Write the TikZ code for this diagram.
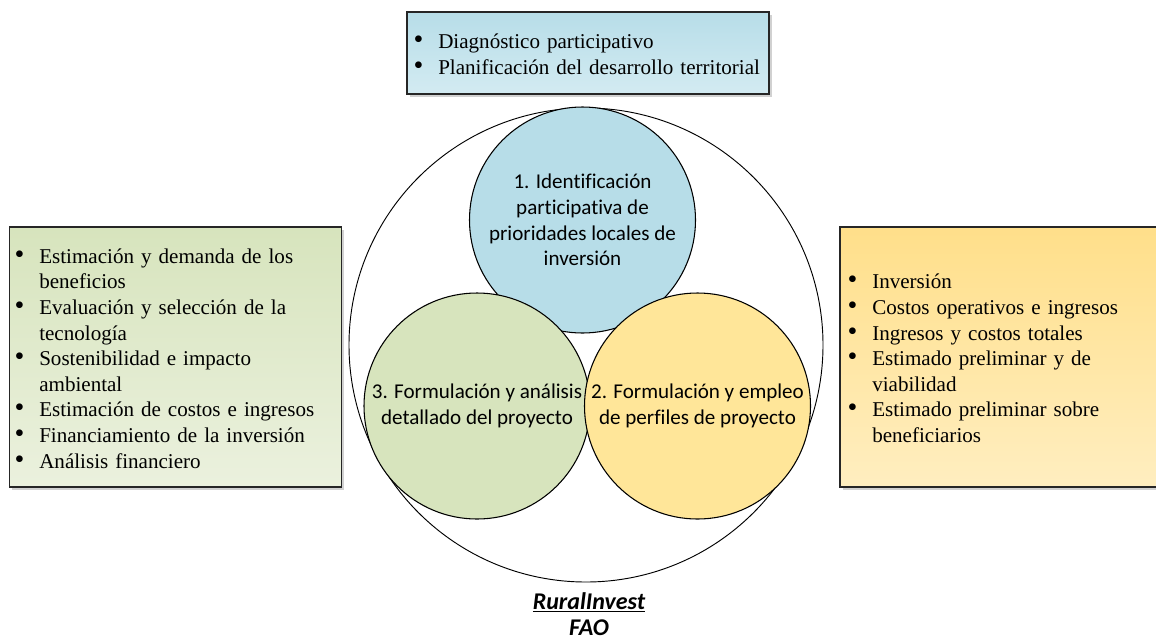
\documentclass[tikz,border=0pt]{standalone}
\usepackage{fontspec}
\setmainfont{Liberation Serif}
\newfontfamily\calibri[Ligatures=NoCommon]{Carlito}
\usetikzlibrary{shadows}
\definecolor{blueA}{HTML}{B7DDE8}
\definecolor{blueB}{HTML}{D3EBF2}
\definecolor{greenA}{HTML}{D7E4BD}
\definecolor{greenB}{HTML}{EBF1DE}
\definecolor{goldA}{HTML}{FFDF8A}
\definecolor{goldB}{HTML}{FFEEC0}
\definecolor{circBlue}{HTML}{B7DDE8}
\definecolor{circGreen}{HTML}{D7E4BD}
\definecolor{circGold}{HTML}{FFE699}
\newcommand{\bulletmark}{\raisebox{0.32ex}{\rule{0pt}{0pt}{\fontsize{22}{22}\selectfont\raisebox{-0.12ex}{\textbullet}}}}
\newcommand{\itm}[1]{\par\noindent\hangindent=18pt\hangafter=1\makebox[18pt][l]{\hspace{-0.5pt}\smash{\fontsize{21}{21}\selectfont\textbullet}}#1}
\begin{document}
\begin{tikzpicture}[x=0.75pt,y=-0.75pt,
  infobox/.style={draw=black!85, line width=0.8pt, rectangle, inner sep=0pt,
    drop shadow={shadow xshift=2pt, shadow yshift=-2pt, fill=black!30, opacity=0.6}},
  boxtext/.style={anchor=west, inner sep=0pt, font=\fontsize{15.8}{19.2}\selectfont},
  phase/.style={circle, draw=black, line width=0.8pt, minimum size=169.5pt, inner sep=0pt},
  phasetext/.style={align=center, inner sep=0pt, font=\calibri\fontsize{15.8}{19.2}\selectfont},
]
\useasboundingbox (0,0) rectangle (1156,640);

% outer circle
\node[circle, draw=black, line width=0.7pt, minimum size=355.5pt, inner sep=0pt] (outer) at (586,345) {};

% phase circles
\node[phase, fill=circBlue] (c1) at (582.5,220) {};
\node[phase, fill=circGreen] (c3) at (477,406) {};
\node[phase, fill=circGold] (c2) at (697.5,406) {};
\node[phasetext] (t1) at (c1.center) {1. Identificación\\participativa de\\prioridades locales de\\inversión};
\node[phasetext] (t3) at (c3.center) {3. Formulación y análisis\\detallado del proyecto};
\node[phasetext] (t2) at (c2.center) {2. Formulación y empleo\\de perfiles de proyecto};

% top box
\node[infobox, top color=blueA, bottom color=blueB, minimum width=271.5pt, minimum height=61.5pt] (topbox) at (588,53) {};
\node[boxtext, text width=265pt] (toptext) at (414,49) {\raggedright
\itm{Diagnóstico participativo}
\itm{Planificación del desarrollo territorial}\par};

% left box
\node[infobox, top color=greenA, bottom color=greenB, minimum width=249pt, minimum height=195pt] (leftbox) at (175.5,357) {};
\node[boxtext, text width=240pt] (lefttext) at (15,353) {\raggedright
\itm{Estimación y demanda de los\newline beneficios}
\itm{Evaluación y selección de la\newline tecnología}
\itm{Sostenibilidad e impacto\newline ambiental}
\itm{Estimación de costos e ingresos}
\itm{Financiamiento de la inversión}
\itm{Análisis financiero}\par};

% right box
\node[infobox, top color=goldA, bottom color=goldB, minimum width=240pt, minimum height=195pt] (rightbox) at (1000,357) {};
\node[boxtext, text width=225pt] (righttext) at (848,353) {\raggedright
\itm{Inversión}
\itm{Costos operativos e ingresos}
\itm{Ingresos y costos totales}
\itm{Estimado preliminar y de\newline viabilidad}
\itm{Estimado preliminar sobre\newline beneficiarios}\par};

% caption
\node[align=center, inner sep=0pt, font=\calibri\bfseries\itshape\fontsize{18}{20}\selectfont] (caption) at (589,614) {\underline{RuralInvest}\\FAO};
\end{tikzpicture}
\end{document}
